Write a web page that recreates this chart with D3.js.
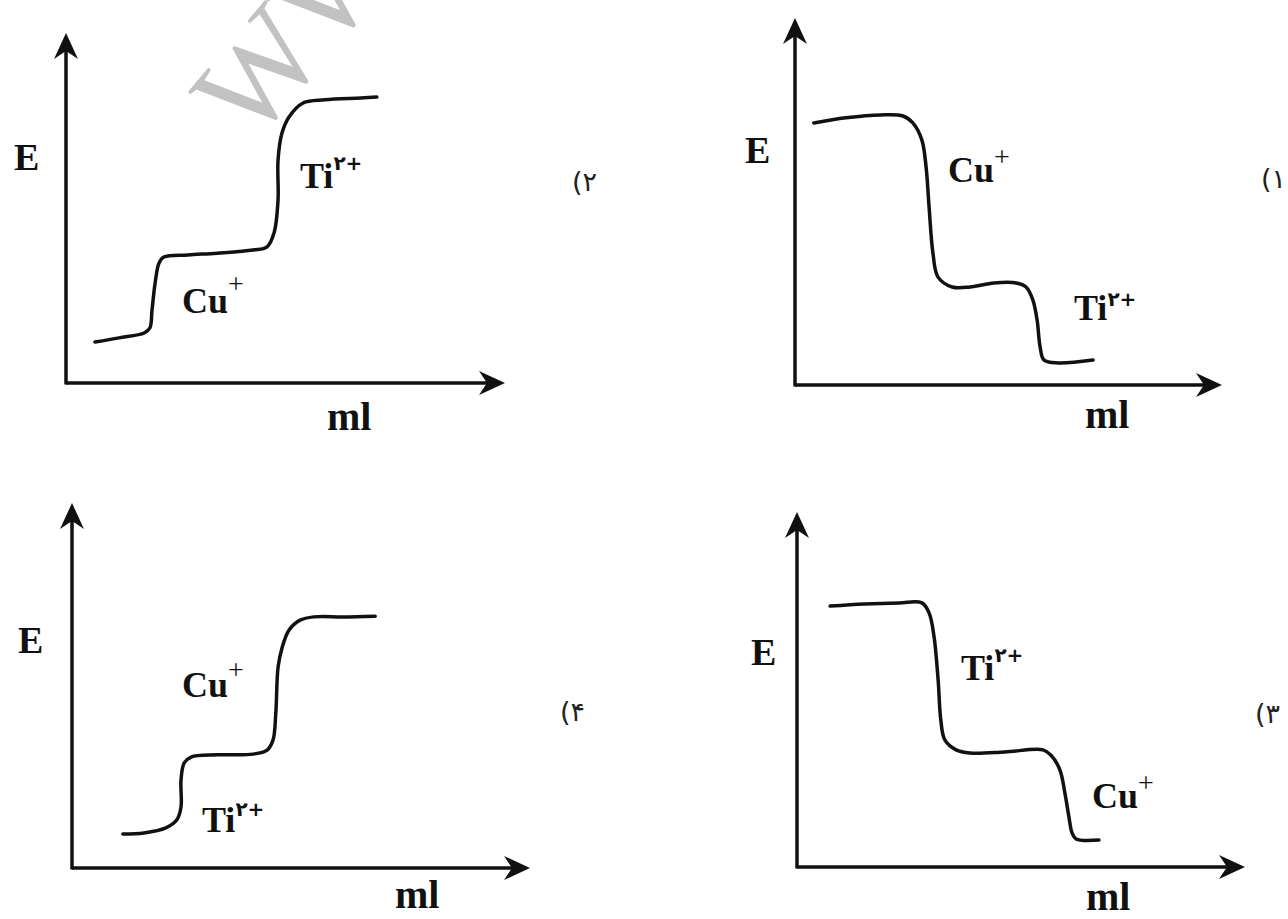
<!DOCTYPE html>
<meta charset="utf-8">
<style>
    body {
        margin: 0;
        background-color: #fff;
    }

    svg {
        display: block;
    }

    .eixo {
        fill: none;
        stroke: #111;
        stroke-width: 3.5px;
    }

    .seta {
        fill: #111;
    }

    .curva {
        fill: none;
        stroke: #111;
        stroke-width: 3.5px;
        stroke-linecap: round;
        stroke-linejoin: round;
    }

    .rotulo {
        font-family: "Liberation Serif", "DejaVu Serif", serif;
        font-weight: bold;
        fill: #111;
    }

    .numero {
        font-family: "DejaVu Sans", sans-serif;
        font-size: 27px;
        fill: #222;
        direction: ltr;
        unicode-bidi: bidi-override;
    }

    .marca {
        font-family: "Liberation Serif", serif;
        font-size: 128px;
        fill: #c2c2c2;
    }
</style>
<title>Curvas de titulação</title>
<svg width="1288" height="919"></svg>
<script src="https://cdn.jsdelivr.net/npm/d3@7/dist/d3.min.js"></script>
<script>
    // pontos [ml, E] (0..100 em cada eixo)
    var curva1 = [[4.4, 71.4], [11.9, 72.8], [20.1, 73.6], [25.3, 73.3], [27.6, 71.4], [29.7, 66.8],
        [30.7, 59.4], [31.4, 48.5], [32.3, 36.0], [33.5, 29.4], [36.8, 26.7], [41.0, 26.7],
        [46.6, 27.8], [51.8, 27.8], [54.1, 26.7], [55.7, 23.2], [56.7, 17.7], [57.4, 10.4],
        [58.3, 6.8], [61.6, 6.0], [69.8, 6.8]];

    var curva2 = [[6.6, 11.7], [12.1, 12.9], [17.8, 14.3], [19.1, 15.7], [19.6, 20.9], [20.3, 28.6],
        [21.2, 34.3], [22.3, 36.0], [27.8, 36.6], [34.4, 37.1], [42.6, 38.0], [45.8, 38.9],
        [47.4, 42.9], [48.3, 52.3], [48.3, 63.7], [49.2, 71.4], [50.8, 76.0], [54.0, 80.0],
        [59.0, 80.9], [67.2, 81.4], [70.8, 81.7]];

    var curva3 = [[7.4, 73.5], [15.0, 74.1], [22.8, 74.4], [27.9, 74.4], [29.5, 71.5], [30.6, 64.8],
        [31.5, 52.7], [32.1, 41.4], [33.0, 35.8], [35.5, 33.0], [38.6, 32.1], [46.4, 32.4],
        [54.9, 33.0], [56.7, 31.5], [58.7, 27.3], [59.8, 20.8], [60.7, 14.1], [61.4, 9.6],
        [62.3, 7.9], [67.4, 7.6]];

    var curva4 = [[11.1, 9.3], [15.7, 9.6], [20.5, 11.0], [22.9, 13.2], [23.8, 16.7], [23.8, 24.1],
        [24.5, 28.8], [26.0, 30.4], [31.7, 31.0], [39.5, 31.2], [42.6, 32.3], [43.9, 35.1],
        [44.5, 42.5], [45.0, 55.1], [45.9, 60.5], [47.4, 65.2], [49.8, 67.9], [52.8, 68.8],
        [59.2, 68.8], [66.2, 69.0]];

    var numeros = ["(\u06F1", "(\u06F2", "(\u06F3", "(\u06F4"];
    var ions1 = ["Cu", "Ti"];
    var ions2 = ["Ti", "Cu"];
    var ions3 = ["Ti", "Cu"];
    var ions4 = ["Cu", "Ti"];
    var cargas = { "Cu": "+", "Ti": "\u06F2+" };

    var svg = d3.select("svg");

    // marca d'água
    svg.append("text")
        .attr("class", "marca")
        .attr("transform", "translate(252,146) rotate(-50)")
        .text("WWW");

    // layout de cada painel: origem, pontas dos eixos, posição dos rótulos (px relativos à origem)
    var paineis = [
        { curva: curva1, ions: ions1, numero: numeros[0], ox: 795, oy: 385, px: 1222, py: 18,
          e: [-50, -222], ml: [290, 43], num: [466, -197],
          pos: [[153, -203, -16], [279, -65, -14]] },
        { curva: curva2, ions: ions2, numero: numeros[1], ox: 66, oy: 383, px: 505, py: 33,
          e: [-52, -213], ml: [261, 47], num: [506, -192],
          pos: [[234, -195, -18], [116, -70, -20]] },
        { curva: curva3, ions: ions3, numero: numeros[2], ox: 797, oy: 867, px: 1245, py: 512,
          e: [-46, -202], ml: [289, 43], num: [458, -144],
          pos: [[164, -187, -18], [295, -59, -16]] },
        { curva: curva4, ions: ions4, numero: numeros[3], ox: 72, oy: 868, px: 530, py: 503,
          e: [-54, -215], ml: [323, 40], num: [488, -147],
          pos: [[110, -171, -18], [130, -36, -16]] }
    ];

    paineis.forEach(function (p) {
        var x = d3.scaleLinear().domain([0, 100]).range([p.ox, p.px]);
        var y = d3.scaleLinear().domain([0, 100]).range([p.oy, p.py]);
        var g = svg.append("g");

        // eixos
        g.append("line").attr("class", "eixo")
            .attr("x1", x(0)).attr("y1", y(0)).attr("x2", x(100) - 12).attr("y2", y(0));
        g.append("line").attr("class", "eixo")
            .attr("x1", x(0)).attr("y1", y(0) + 1.5).attr("x2", x(0)).attr("y2", y(100) + 12);

        g.append("path").attr("class", "seta")
            .attr("d", "M" + x(100) + "," + y(0)
                + "L" + (x(100) - 26) + "," + (y(0) - 12)
                + "L" + (x(100) - 18) + "," + y(0)
                + "L" + (x(100) - 26) + "," + (y(0) + 12) + "Z");
        g.append("path").attr("class", "seta")
            .attr("d", "M" + x(0) + "," + y(100)
                + "L" + (x(0) - 12) + "," + (y(100) + 26)
                + "L" + x(0) + "," + (y(100) + 18)
                + "L" + (x(0) + 12) + "," + (y(100) + 26) + "Z");

        // curva
        var linha = d3.line()
            .x(function (d) { return x(d[0]); })
            .y(function (d) { return y(d[1]); })
            .curve(d3.curveCatmullRom.alpha(0.5));

        g.append("path").attr("class", "curva").attr("d", linha(p.curva));

        // rótulos
        g.append("text").attr("class", "rotulo")
            .attr("x", p.ox + p.e[0]).attr("y", p.oy + p.e[1])
            .style("font-size", "38px")
            .text("E");

        g.append("text").attr("class", "rotulo")
            .attr("x", p.ox + p.ml[0]).attr("y", p.oy + p.ml[1])
            .style("font-size", "40px")
            .text("ml");

        g.append("text").attr("class", "numero")
            .attr("x", p.ox + p.num[0]).attr("y", p.oy + p.num[1])
            .text(p.numero);

        p.ions.forEach(function (ion, i) {
            var t = g.append("text").attr("class", "rotulo")
                .attr("x", p.ox + p.pos[i][0]).attr("y", p.oy + p.pos[i][1])
                .style("font-size", "36px");
            t.append("tspan").text(ion);
            t.append("tspan")
                .attr("dy", p.pos[i][2])
                .style("font-size", ion == "Ti" ? "20px" : "28px")
                .style("font-weight", ion == "Ti" ? "bold" : "normal")
                .style("font-family", ion == "Ti" ? "'DejaVu Sans', serif" : null)
                .text(cargas[ion]);
        });
    });
</script>
